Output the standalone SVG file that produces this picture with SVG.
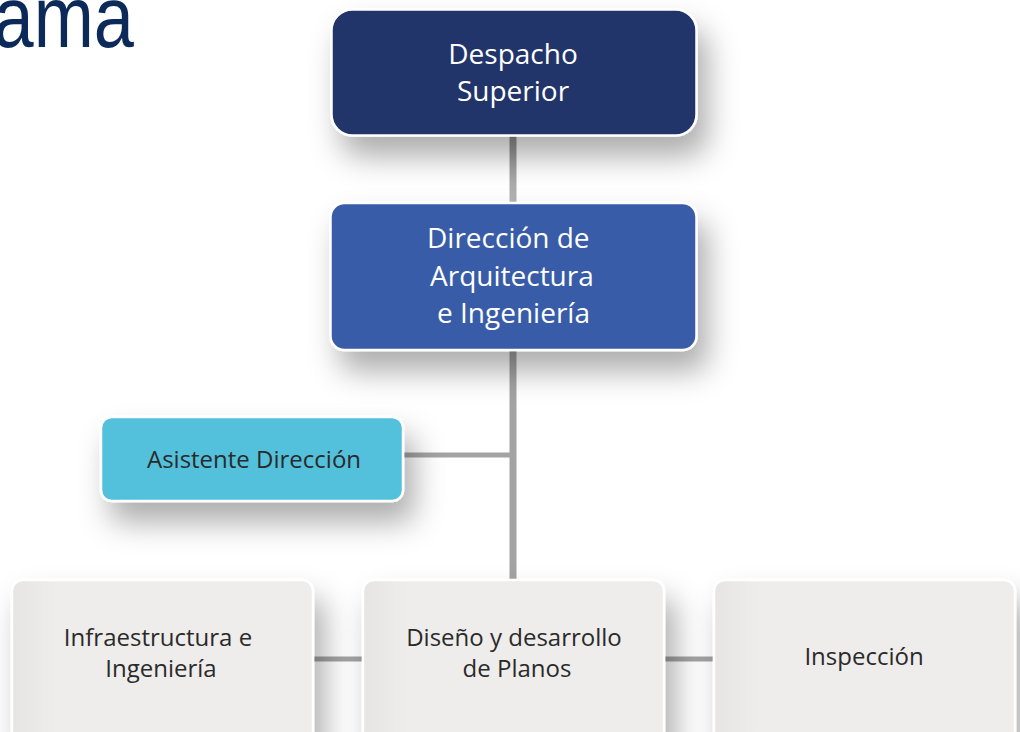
<svg xmlns="http://www.w3.org/2000/svg" width="1020" height="732" viewBox="0 0 1020 732">
<defs>
<style>
.t{font-family:"Open Sans","Noto Sans","Liberation Sans",sans-serif;}
.w{fill:#ffffff;font-size:28px;}
.d{fill:#2a2a2a;font-size:24px;}
.box{stroke:#ffffff;stroke-width:2.5;}
.con{fill:#a3a3a3;}
</style>
<filter id="sh" x="-30%" y="-30%" width="170%" height="200%">
<feDropShadow dx="10" dy="20" stdDeviation="15" flood-color="#000" flood-opacity="0.32"/>
</filter>
<linearGradient id="gb" x1="0" y1="0" x2="1" y2="0">
<stop offset="0" stop-color="#e6e5e3"/>
<stop offset="0.15" stop-color="#eeedeb"/>
<stop offset="1" stop-color="#eeedeb"/>
</linearGradient>
<linearGradient id="gv" x1="0" y1="0" x2="0" y2="1">
<stop offset="0" stop-color="#8f8f8f"/>
<stop offset="1" stop-color="#b5b5b5"/>
</linearGradient>
</defs>
<rect width="1020" height="732" fill="#ffffff"/>
<text x="0" y="0" transform="translate(134,47) scale(0.82,1)" text-anchor="end" style="font-family:'Liberation Sans',Arial,sans-serif;font-size:88px;fill:#0b2a5a">ama</text>

<g id="connectors">
<rect x="509.5" y="134" width="7" height="70" fill="url(#gv)"/>
<rect x="509.5" y="349" width="7" height="230" class="con"/>
<rect x="402" y="452.5" width="110" height="5" class="con"/>
<rect x="312" y="656.5" width="52" height="5" class="con"/>
<rect x="663" y="656.5" width="52" height="5" class="con"/>
</g>

<g id="despacho">
<rect class="box" x="331.5" y="9.5" width="365" height="126" rx="21" fill="#21366a" filter="url(#sh)"/>
<text class="t w" x="513" y="64" text-anchor="middle">Despacho</text>
<text class="t w" x="513" y="101" text-anchor="middle">Superior</text>
</g>

<g id="direccion">
<rect class="box" x="330.5" y="203" width="366" height="147" rx="14" fill="#395ca8" filter="url(#sh)"/>
<text class="t w" x="427" y="248">Dirección de</text>
<text class="t w" x="430" y="286">Arquitectura</text>
<text class="t w" x="437" y="323">e Ingeniería</text>
</g>

<g id="asistente">
<rect class="box" x="101" y="417" width="302" height="84" rx="11" fill="#52c0dc" filter="url(#sh)"/>
<text class="t d" x="254" y="468" text-anchor="middle">Asistente Dirección</text>
</g>

<g id="infraestructura">
<rect class="box" x="12" y="580" width="301" height="170" rx="11" fill="url(#gb)" filter="url(#sh)"/>
<text class="t d" x="158" y="646" text-anchor="middle">Infraestructura e</text>
<text class="t d" x="161" y="677" text-anchor="middle">Ingeniería</text>
</g>

<g id="diseno">
<rect class="box" x="363" y="580" width="301" height="170" rx="11" fill="url(#gb)" filter="url(#sh)"/>
<text class="t d" x="514" y="646" text-anchor="middle">Diseño y desarrollo</text>
<text class="t d" x="517" y="677" text-anchor="middle">de Planos</text>
</g>

<g id="inspeccion">
<rect class="box" x="714" y="580" width="301" height="170" rx="11" fill="url(#gb)" filter="url(#sh)"/>
<text class="t d" x="864" y="665" text-anchor="middle">Inspección</text>
</g>
</svg>
